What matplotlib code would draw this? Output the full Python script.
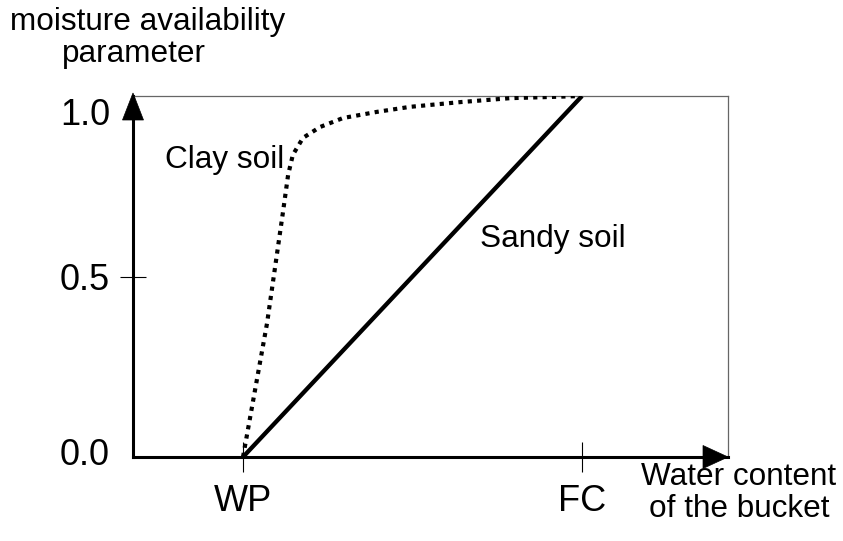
import matplotlib
matplotlib.use("Agg")
import matplotlib.pyplot as plt
from matplotlib import transforms
from matplotlib.patches import Polygon

plt.rcParams['font.family'] = ['Liberation Sans', 'DejaVu Sans']

# Water content in units where WP = 0 and FC = 1
tick_positions = [0.0, 1.0]
tick_labels = ['WP', 'FC']
y_ticks = [0.0, 0.5, 1.0]
y_tick_labels = ['0.0', '0.5', '1.0']

# Sandy soil: linear rise from wilting point to field capacity
sandy_x = [0.0, 1.0]
sandy_y = [0.0, 1.0]

# Clay soil: steep rise, then a slow approach to 1.0
clay_x = [0.0, 0.071, 0.118, 0.133, 0.147, 0.177, 0.227, 0.295, 0.395,
          0.493, 0.640, 0.788, 1.0]
clay_y = [0.0, 0.371, 0.679, 0.781, 0.837, 0.884, 0.914, 0.939, 0.956,
          0.970, 0.983, 0.994, 1.0]

W, H = 843, 541
fig = plt.figure(figsize=(W / 100, H / 100), dpi=100)
ax = fig.add_axes([133 / W, (H - 457) / H, (728 - 133) / W, (457 - 96) / H])

xmin, xmax = -0.3245, 1.4307
ax.set_xlim(xmin, xmax)
ax.set_ylim(0, 1)

# curves
ax.plot(sandy_x, sandy_y, color='black', lw=3.1, solid_capstyle='butt',
        zorder=3)
ax.plot(clay_x, clay_y, color='black', lw=3.0, linestyle=(0, (1.0, 1.25)),
        dash_capstyle='butt', zorder=3)

# frame
for side in ('left', 'bottom'):
    ax.spines[side].set_linewidth(2.2)
    ax.spines[side].set_color('black')
for side in ('top', 'right'):
    ax.spines[side].set_linewidth(0.9)
    ax.spines[side].set_color('#666666')

# ticks
ax.set_xticks(tick_positions, tick_labels, fontsize=26)
ax.set_yticks(y_ticks, y_tick_labels, fontsize=26)
ax.tick_params(axis='y', direction='inout', length=19, width=0.8, pad=7)
ax.tick_params(axis='x', direction='inout', length=21.5, width=0.8, pad=9)
xt = ax.xaxis.get_major_ticks()
xt[0].tick1line.set_color('#888888')
yt = ax.yaxis.get_major_ticks()
yt[0].tick1line.set_visible(False)
yt[2].tick1line.set_visible(False)

# nudge the tick labels at the ends of the y axis
lbls = ax.get_yticklabels()
lbls[2].set_transform(lbls[2].get_transform() +
                      transforms.ScaledTranslation(0, -11 / 72, fig.dpi_scale_trans))
lbls[0].set_transform(lbls[0].get_transform() +
                      transforms.ScaledTranslation(0, 4 / 72, fig.dpi_scale_trans))


# arrow heads (sizes in inches at the tip)
def head(x, y, pts):
    tr = fig.dpi_scale_trans + transforms.ScaledTranslation(x, y, ax.transData)
    p = Polygon(pts, closed=True, facecolor='black', edgecolor='black',
                lw=0.5, transform=tr, clip_on=False, zorder=5)
    ax.add_patch(p)


head(xmax, 0.0, [(0.0, 0.0), (-0.25, 0.115), (-0.25, -0.115)])
head(xmin, 1.0, [(0.0, 0.03), (0.105, -0.24), (-0.105, -0.24)])

# curve labels
ax.text(-0.230, 0.80, 'Clay soil', fontsize=22.7, ha='left', va='baseline')
ax.text(0.699, 0.582, 'Sandy soil', fontsize=22.7, ha='left', va='baseline')

# axis titles
fig.text(148 / W, 1 - 30 / H, 'moisture availability', fontsize=22.7,
         ha='center', va='baseline')
fig.text(134 / W, 1 - 62 / H, 'parameter', fontsize=22.7,
         ha='center', va='baseline')
fig.text(739 / W, 1 - 485 / H, 'Water content', fontsize=22.7,
         ha='center', va='baseline')
fig.text(739 / W, 1 - 517 / H, 'of the bucket', fontsize=22.7,
         ha='center', va='baseline')

fig.savefig('out.png', dpi=100)
